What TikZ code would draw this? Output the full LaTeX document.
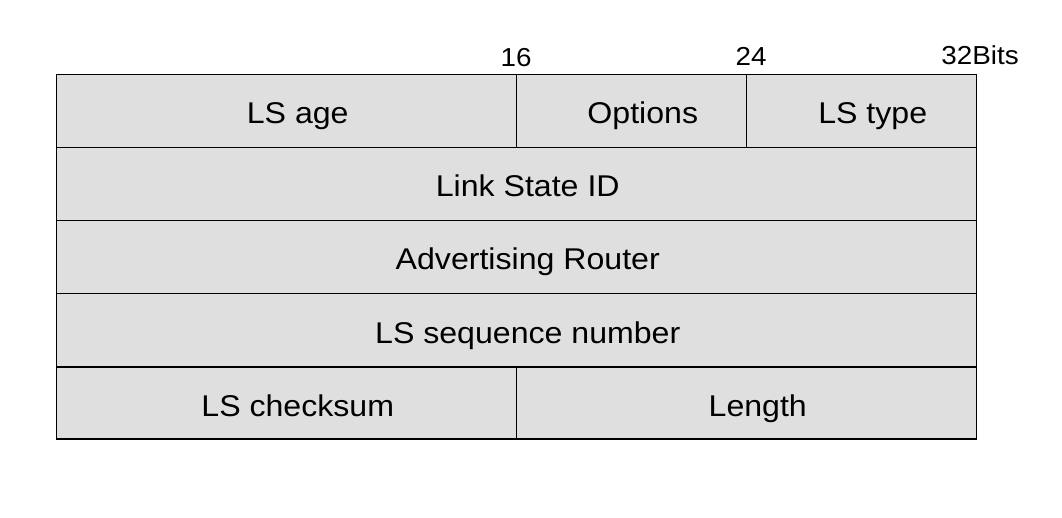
\documentclass[tikz,border=0pt]{standalone}
\usepackage{fontspec}
\setmainfont{Liberation Sans}
\newfontfamily\widefont[FakeStretch=1.07]{Liberation Sans}
\begin{document}
\begin{tikzpicture}[x=1pt,y=-1pt,
  cell/.style={draw=black,fill=fieldgray,line width=1.5pt,inner sep=0pt,anchor=north west},
  fieldtext/.style={font=\widefont\fontsize{30}{36}\selectfont,anchor=base,inner sep=0pt},
  bitmark/.style={font=\widefont\fontsize{26}{30}\selectfont,anchor=base,inner sep=0pt}]
\definecolor{fieldgray}{HTML}{DFDFDF}
\useasboundingbox (0,0) rectangle (1062,518);
% row 1
\node[cell,minimum width=460pt,minimum height=73pt] (age) at (55.5,74) {};
\node[cell,minimum width=230pt,minimum height=73pt] (opt) at (515.5,74) {};
\node[cell,minimum width=230pt,minimum height=73pt] (type) at (745.5,74) {};
% full-width rows
\node[cell,minimum width=920pt,minimum height=73pt] (lsid) at (55.5,147) {};
\node[cell,minimum width=920pt,minimum height=73pt] (adv) at (55.5,220) {};
\node[cell,minimum width=920pt,minimum height=73pt] (seq) at (55.5,293) {};
% last row
\node[cell,minimum width=460pt,minimum height=72pt] (cks) at (55.5,366) {};
\node[cell,minimum width=460pt,minimum height=72pt] (len) at (515.5,366) {};
% field labels, baseline 50pt below the top edge of each cell
\node[fieldtext] at ([xshift=11.5pt,yshift=-50pt]age.north) {LS age};
\node[fieldtext] at ([xshift=11.5pt,yshift=-50pt]opt.north) {Options};
\node[fieldtext] at ([xshift=11.5pt,yshift=-50pt]type.north) {LS type};
\node[fieldtext] at ([xshift=11.5pt,yshift=-50pt]lsid.north) {Link State ID};
\node[fieldtext] at ([xshift=11.5pt,yshift=-50pt]adv.north) {Advertising Router};
\node[fieldtext] at ([xshift=11.5pt,yshift=-50pt]seq.north) {LS sequence number};
\node[fieldtext] at ([xshift=11.5pt,yshift=-50pt]cks.north) {LS checksum};
\node[fieldtext] at ([xshift=11.5pt,yshift=-50pt]len.north) {Length};
% bit positions
\node[bitmark] (b16) at (516,67) {16};
\node[bitmark] (b24) at (751,66) {24};
\node[bitmark] (b32) at (980,65) {32Bits};
\end{tikzpicture}
\end{document}
